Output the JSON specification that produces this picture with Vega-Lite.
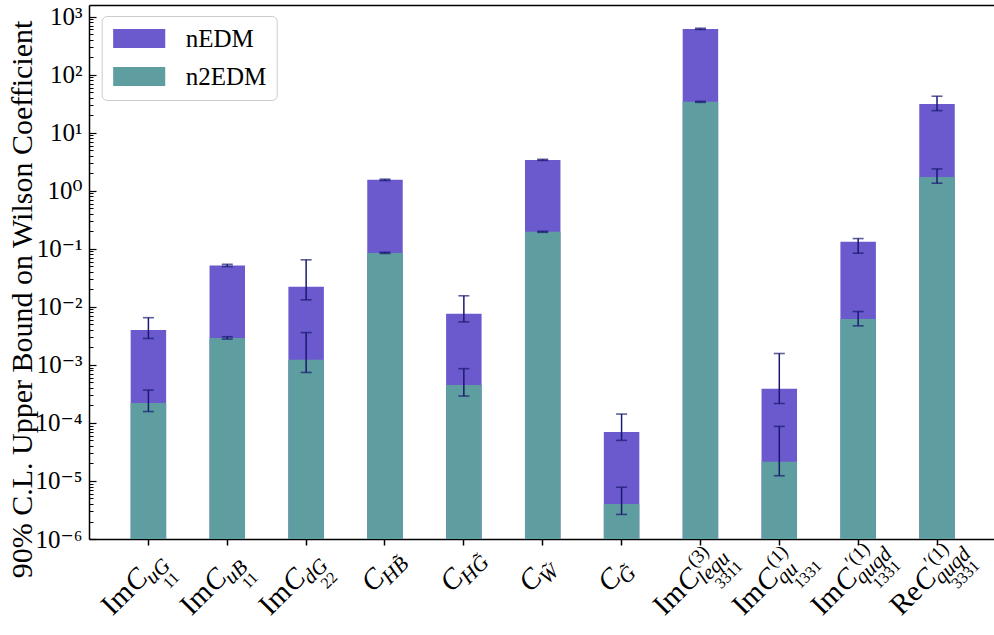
{
  "$schema": "https://vega.github.io/schema/vega-lite/v6.json",
  "width": 905,
  "height": 534,
  "autosize": {"type": "none"},
  "padding": {"left": 89, "top": 5, "right": 0, "bottom": 96},
  "background": "white",
  "config": {
    "view": {"stroke": null},
    "font": "Liberation Serif, DejaVu Serif, serif",
    "axis": {"labelFont": "Liberation Serif, DejaVu Serif, serif", "titleFont": "Liberation Serif, DejaVu Serif, serif"},
    "legend": {"labelFont": "Liberation Serif, DejaVu Serif, serif"},
    "text": {"font": "Liberation Serif, DejaVu Serif, serif"}
  },
  "datasets": {
    "bars": [
      {"cat": "ImC_uG_11", "series": "nEDM", "value": 0.0040, "lo": 0.00285, "hi": 0.0065},
      {"cat": "ImC_uB_11", "series": "nEDM", "value": 0.0515, "lo": 0.0495, "hi": 0.054},
      {"cat": "ImC_dG_22", "series": "nEDM", "value": 0.0221, "lo": 0.0132, "hi": 0.0646},
      {"cat": "C_HB", "series": "nEDM", "value": 1.54, "lo": 1.5, "hi": 1.58},
      {"cat": "C_HG", "series": "nEDM", "value": 0.0076, "lo": 0.0055, "hi": 0.0155},
      {"cat": "C_W", "series": "nEDM", "value": 3.4, "lo": 3.33, "hi": 3.48},
      {"cat": "C_G", "series": "nEDM", "value": 0.000070, "lo": 0.000050, "hi": 0.000142},
      {"cat": "ImC3_lequ_3311", "series": "nEDM", "value": 614, "lo": 600, "hi": 630},
      {"cat": "ImC1_qu_1331", "series": "nEDM", "value": 0.000387, "lo": 0.000216, "hi": 0.00157},
      {"cat": "ImC1p_quqd_1331", "series": "nEDM", "value": 0.132, "lo": 0.084, "hi": 0.150},
      {"cat": "ReC1p_quqd_3331", "series": "nEDM", "value": 31.3, "lo": 24.0, "hi": 42.5},
      {"cat": "ImC_uG_11", "series": "n2EDM", "value": 0.00022, "lo": 0.000157, "hi": 0.000368},
      {"cat": "ImC_uB_11", "series": "n2EDM", "value": 0.0029, "lo": 0.00278, "hi": 0.00305},
      {"cat": "ImC_dG_22", "series": "n2EDM", "value": 0.00122, "lo": 0.00074, "hi": 0.0036},
      {"cat": "C_HB", "series": "n2EDM", "value": 0.085, "lo": 0.083, "hi": 0.087},
      {"cat": "C_HG", "series": "n2EDM", "value": 0.00045, "lo": 0.00029, "hi": 0.00086},
      {"cat": "C_W", "series": "n2EDM", "value": 0.196, "lo": 0.192, "hi": 0.200},
      {"cat": "C_G", "series": "n2EDM", "value": 0.0000040, "lo": 0.00000265, "hi": 0.0000078},
      {"cat": "ImC3_lequ_3311", "series": "n2EDM", "value": 34, "lo": 33.3, "hi": 34.7},
      {"cat": "ImC1_qu_1331", "series": "n2EDM", "value": 0.0000214, "lo": 0.0000123, "hi": 0.000087},
      {"cat": "ImC1p_quqd_1331", "series": "n2EDM", "value": 0.0062, "lo": 0.0047, "hi": 0.0083},
      {"cat": "ReC1p_quqd_3331", "series": "n2EDM", "value": 1.73, "lo": 1.35, "hi": 2.38}
    ],
    "labels": [
      {"cat": "ImC_uG_11", "pre": "Im", "base": "C", "sup": "", "sub": "uG", "subsub": "11"},
      {"cat": "ImC_uB_11", "pre": "Im", "base": "C", "sup": "", "sub": "uB", "subsub": "11"},
      {"cat": "ImC_dG_22", "pre": "Im", "base": "C", "sup": "", "sub": "dG", "subsub": "22"},
      {"cat": "C_HB", "pre": "", "base": "C", "sup": "", "sub": "HB\u0303", "subsub": ""},
      {"cat": "C_HG", "pre": "", "base": "C", "sup": "", "sub": "HG\u0303", "subsub": ""},
      {"cat": "C_W", "pre": "", "base": "C", "sup": "", "sub": "W\u0303", "subsub": ""},
      {"cat": "C_G", "pre": "", "base": "C", "sup": "", "sub": "G\u0303", "subsub": ""},
      {"cat": "ImC3_lequ_3311", "pre": "Im", "base": "C", "sup": "(3)", "sub": "lequ", "subsub": "3311"},
      {"cat": "ImC1_qu_1331", "pre": "Im", "base": "C", "sup": "(1)", "sub": "qu", "subsub": "1331"},
      {"cat": "ImC1p_quqd_1331", "pre": "Im", "base": "C", "sup": "\u2032(1)", "sub": "quqd", "subsub": "1331"},
      {"cat": "ReC1p_quqd_3331", "pre": "Re", "base": "C", "sup": "\u2032(1)", "sub": "quqd", "subsub": "3331"}
    ]
  },
  "resolve": {"axis": {"x": "independent", "y": "independent"}},
  "layer": [
    {
      "data": {"name": "bars"},
      "mark": {"type": "bar"},
      "encoding": {
        "x": {
          "field": "cat", "type": "nominal", "sort": null,
          "scale": {
            "type": "band",
            "domain": ["ImC_uG_11", "ImC_uB_11", "ImC_dG_22", "C_HB", "C_HG", "C_W", "C_G", "ImC3_lequ_3311", "ImC1_qu_1331", "ImC1p_quqd_1331", "ReC1p_quqd_3331"],
            "paddingInner": 0.55, "paddingOuter": 0.513, "align": 0.515
          },
          "axis": {
            "orient": "bottom", "labels": false, "title": null, "grid": false,
            "ticks": true, "tickSize": 6, "tickWidth": 1.5, "tickColor": "black",
            "domain": true, "domainColor": "black", "domainWidth": 1.5
          }
        },
        "y": {
          "field": "value", "type": "quantitative",
          "scale": {"type": "log", "domain": [0.000001, 1585], "nice": false, "zero": false},
          "axis": {
            "orient": "left",
            "values": [0.000001, 0.00001, 0.0001, 0.001, 0.01, 0.1, 1, 10, 100, 1000],
            "labelExpr": "'10' + ['\u207b\u2076','\u207b\u2075','\u207b\u2074','\u207b\u00b3','\u207b\u00b2','\u207b\u00b9','\u2070','\u00b9','\u00b2','\u00b3'][round(log(datum.value)/LN10) + 6]",
            "labelFont": "Liberation Serif, DejaVu Serif, serif", "labelFontSize": 25, "labelColor": "black",
            "labelPadding": 14, "tickSize": -7, "tickWidth": 1.2, "tickColor": "black",
            "domain": true, "domainColor": "black", "domainWidth": 1.5, "grid": false,
            "title": "90% C.L. Upper Bound on Wilson Coefficient",
            "titleFont": "Liberation Serif, DejaVu Serif, serif", "titleFontSize": 30, "titleFontWeight": "normal",
            "titleColor": "black", "titleAngle": 270, "titleAlign": "center",
            "titleBaseline": "alphabetic", "titleX": -58, "titleY": 294
          }
        },
        "y2": {"datum": 0.000001},
        "color": {
          "field": "series", "type": "nominal",
          "scale": {"domain": ["nEDM", "n2EDM"], "range": ["#6a5acd", "#5f9ea0"]},
          "legend": {
            "title": null, "orient": "none", "legendX": 12.7, "legendY": 11,
            "direction": "vertical",
            "symbolType": "M-2.17,-0.79H2.17V0.79H-2.17Z", "symbolSize": 576,
            "symbolStrokeWidth": 0, "symbolOpacity": 1, "symbolOffset": 15,
            "labelFont": "Liberation Serif, DejaVu Serif, serif", "labelFontSize": 25, "labelColor": "black",
            "labelOffset": 34, "padding": 10, "rowPadding": 12,
            "strokeColor": "#cccccc", "fillColor": "rgba(255,255,255,0.8)", "cornerRadius": 5
          }
        }
      }
    },
    {
      "data": {"name": "bars"},
      "mark": {"type": "rule", "color": "#191970", "strokeWidth": 1.5},
      "encoding": {
        "x": {
          "field": "cat", "type": "nominal", "sort": null,
          "axis": {"orient": "top", "labels": false, "ticks": false, "title": null, "grid": false, "domain": true, "domainColor": "black", "domainWidth": 1.5}
        },
        "y": {
          "field": "lo", "type": "quantitative",
          "axis": {
            "orient": "left",
            "values": [
              0.000002, 0.000003, 0.000004, 0.000005, 0.000006, 0.000007, 0.000008, 0.000009,
              0.00002, 0.00003, 0.00004, 0.00005, 0.00006, 0.00007, 0.00008, 0.00009,
              0.0002, 0.0003, 0.0004, 0.0005, 0.0006, 0.0007, 0.0008, 0.0009,
              0.002, 0.003, 0.004, 0.005, 0.006, 0.007, 0.008, 0.009,
              0.02, 0.03, 0.04, 0.05, 0.06, 0.07, 0.08, 0.09,
              0.2, 0.3, 0.4, 0.5, 0.6, 0.7, 0.8, 0.9,
              2, 3, 4, 5, 6, 7, 8, 9,
              20, 30, 40, 50, 60, 70, 80, 90,
              200, 300, 400, 500, 600, 700, 800, 900
            ],
            "labels": false, "domain": false, "grid": false, "title": null,
            "tickSize": -4, "tickWidth": 1, "tickColor": "black"
          }
        },
        "y2": {"field": "hi"}
      }
    },
    {
      "data": {"name": "bars"},
      "mark": {"type": "tick", "orient": "horizontal", "color": "#191970", "size": 11, "thickness": 1.6},
      "encoding": {
        "x": {"field": "cat", "type": "nominal", "sort": null, "axis": null},
        "y": {"field": "lo", "type": "quantitative", "axis": null}
      }
    },
    {
      "data": {"name": "bars"},
      "mark": {"type": "tick", "orient": "horizontal", "color": "#191970", "size": 11, "thickness": 1.6},
      "encoding": {
        "x": {"field": "cat", "type": "nominal", "sort": null, "axis": null},
        "y": {"field": "hi", "type": "quantitative", "axis": null}
      }
    },
    {
      "data": {"name": "labels"},
      "mark": {"type": "text", "angle": 315, "align": "right", "baseline": "alphabetic", "dx": -28, "dy": 29.5, "font": "Liberation Serif, DejaVu Serif, serif", "fontSize": 29, "fontStyle": "italic", "color": "black"},
      "encoding": {
        "x": {"field": "cat", "type": "nominal", "sort": null, "axis": null},
        "y": {"datum": 0.000001, "type": "quantitative", "axis": null},
        "text": {"field": "base"}
      }
    },
    {
      "data": {"name": "labels"},
      "mark": {"type": "text", "angle": 315, "align": "right", "baseline": "alphabetic", "dx": -48, "dy": 29.5, "font": "Liberation Serif, DejaVu Serif, serif", "fontSize": 29, "color": "black"},
      "encoding": {
        "x": {"field": "cat", "type": "nominal", "sort": null, "axis": null},
        "y": {"datum": 0.000001, "type": "quantitative", "axis": null},
        "text": {"field": "pre"}
      }
    },
    {
      "data": {"name": "labels"},
      "mark": {"type": "text", "angle": 315, "align": "left", "baseline": "alphabetic", "dx": -25, "dy": 16.5, "font": "Liberation Serif, DejaVu Serif, serif", "fontSize": 19, "color": "black"},
      "encoding": {
        "x": {"field": "cat", "type": "nominal", "sort": null, "axis": null},
        "y": {"datum": 0.000001, "type": "quantitative", "axis": null},
        "text": {"field": "sup"}
      }
    },
    {
      "data": {"name": "labels"},
      "mark": {"type": "text", "angle": 315, "align": "left", "baseline": "alphabetic", "dx": -29, "dy": 36, "font": "Liberation Serif, DejaVu Serif, serif", "fontSize": 21, "fontStyle": "italic", "color": "black"},
      "encoding": {
        "x": {"field": "cat", "type": "nominal", "sort": null, "axis": null},
        "y": {"datum": 0.000001, "type": "quantitative", "axis": null},
        "text": {"field": "sub"}
      }
    },
    {
      "data": {"name": "labels"},
      "mark": {"type": "text", "angle": 315, "align": "left", "baseline": "alphabetic", "dx": -21, "dy": 50.5, "font": "Liberation Serif, DejaVu Serif, serif", "fontSize": 16, "color": "black"},
      "encoding": {
        "x": {"field": "cat", "type": "nominal", "sort": null, "axis": null},
        "y": {"datum": 0.000001, "type": "quantitative", "axis": null},
        "text": {"field": "subsub"}
      }
    }
  ]
}
